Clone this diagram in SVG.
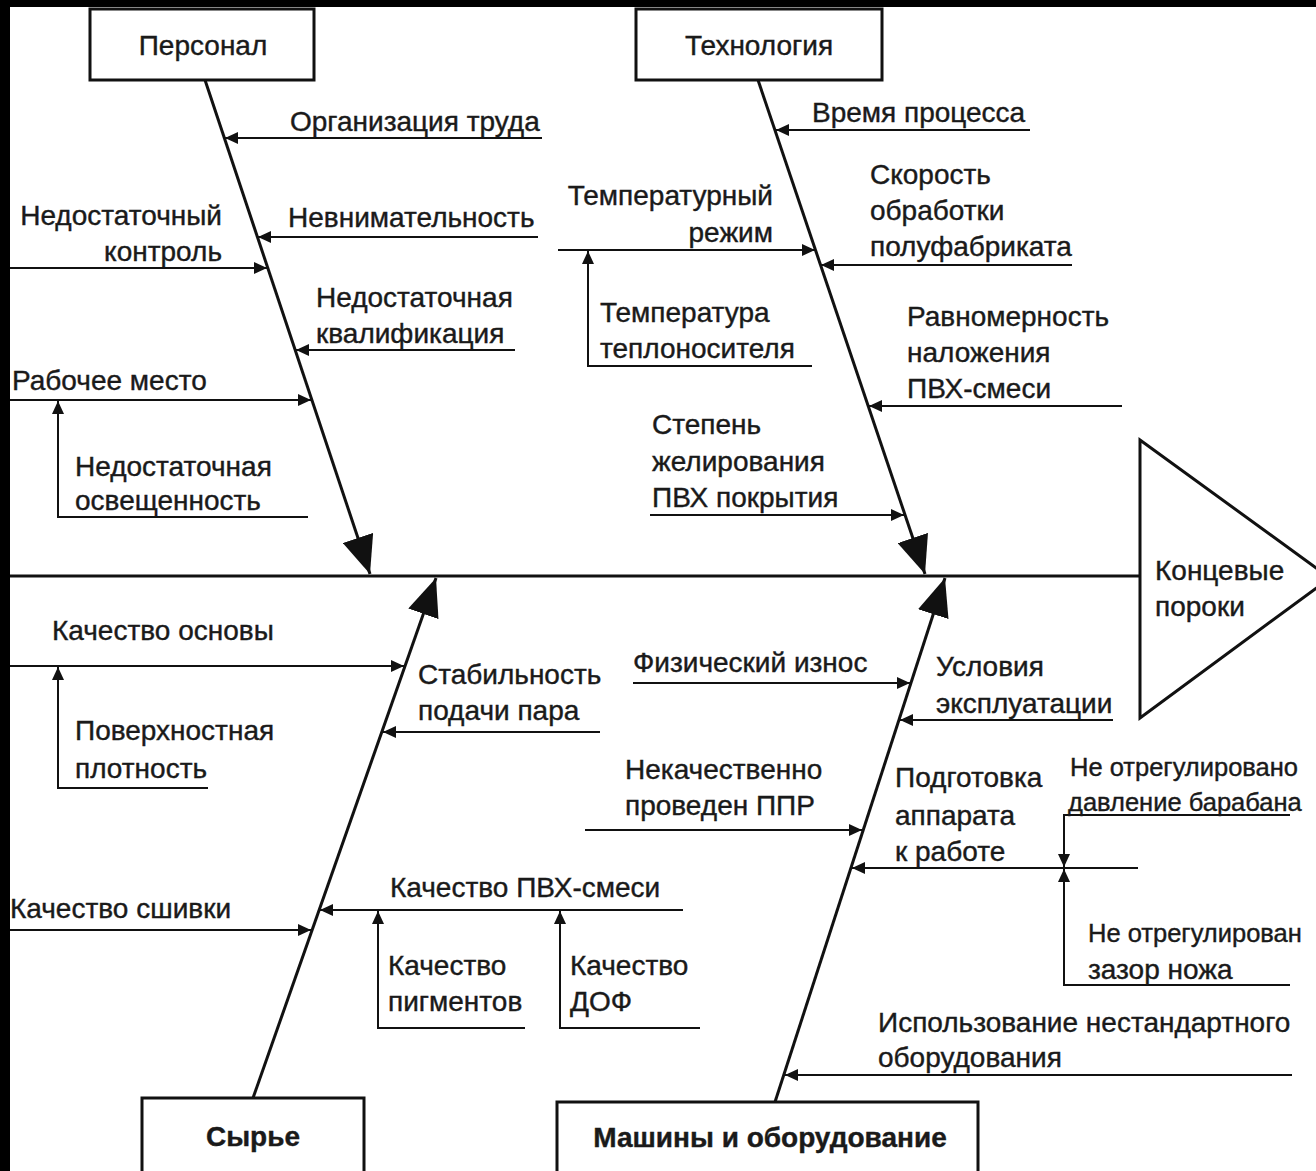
<svg xmlns="http://www.w3.org/2000/svg" width="1316" height="1171" viewBox="0 0 1316 1171">
<defs>
<marker id="sa" markerUnits="userSpaceOnUse" markerWidth="14" markerHeight="12" refX="13" refY="6" orient="auto"><path d="M0,0 L13,6 L0,12 z" fill="#111"/></marker>
<marker id="ba" markerUnits="userSpaceOnUse" markerWidth="40" markerHeight="32" refX="38" refY="16" orient="auto"><path d="M0,0 L38,16 L0,32 z" fill="#111"/></marker>
</defs>
<style>
text{font-family:"Liberation Sans",Arial,sans-serif;font-size:28px;fill:#1a1a1a;stroke:#1a1a1a;stroke-width:0.4}
.b{font-weight:bold}
.s{font-size:25.5px}
.box{fill:#fff;stroke:#111;stroke-width:3}
.bone{stroke:#111;stroke-width:3;fill:none}
.ln{stroke:#111;stroke-width:2;fill:none}
</style>
<rect x="0" y="0" width="1316" height="1171" fill="#fff"/>
<rect x="0" y="0" width="1316" height="7" fill="#000"/>
<rect x="0" y="0" width="10" height="1171" fill="#000"/>

<g id="connectors">
<line class="bone" x1="10" y1="576" x2="1140" y2="576"/>
<line class="bone" x1="205" y1="80" x2="370" y2="574" marker-end="url(#ba)"/>
<line class="bone" x1="758" y1="80" x2="925" y2="574" marker-end="url(#ba)"/>
<line class="bone" x1="253" y1="1098" x2="436" y2="578" marker-end="url(#ba)"/>
<line class="bone" x1="775" y1="1102" x2="945" y2="578" marker-end="url(#ba)"/>
<line class="ln" x1="542" y1="138" x2="225" y2="138" marker-end="url(#sa)"/>
<line class="ln" x1="538" y1="237" x2="258" y2="237" marker-end="url(#sa)"/>
<line class="ln" x1="10" y1="268" x2="267" y2="268" marker-end="url(#sa)"/>
<line class="ln" x1="515" y1="350" x2="296" y2="350" marker-end="url(#sa)"/>
<line class="ln" x1="10" y1="400" x2="311" y2="400" marker-end="url(#sa)"/>
<polyline class="ln" points="308,517 58,517 58,401" marker-end="url(#sa)"/>
<line class="ln" x1="1030" y1="130" x2="776" y2="130" marker-end="url(#sa)"/>
<line class="ln" x1="558" y1="250" x2="815" y2="250" marker-end="url(#sa)"/>
<polyline class="ln" points="812,366 588,366 588,251" marker-end="url(#sa)"/>
<line class="ln" x1="1072" y1="265" x2="821" y2="265" marker-end="url(#sa)"/>
<line class="ln" x1="1122" y1="406" x2="869" y2="406" marker-end="url(#sa)"/>
<line class="ln" x1="650" y1="515" x2="904" y2="515" marker-end="url(#sa)"/>
<line class="ln" x1="10" y1="666" x2="404" y2="666" marker-end="url(#sa)"/>
<polyline class="ln" points="208,788 58,788 58,667" marker-end="url(#sa)"/>
<line class="ln" x1="600" y1="732" x2="383" y2="732" marker-end="url(#sa)"/>
<line class="ln" x1="10" y1="930" x2="311" y2="930" marker-end="url(#sa)"/>
<line class="ln" x1="683" y1="910" x2="320" y2="910" marker-end="url(#sa)"/>
<polyline class="ln" points="525,1028 378,1028 378,911" marker-end="url(#sa)"/>
<polyline class="ln" points="700,1028 560,1028 560,911" marker-end="url(#sa)"/>
<line class="ln" x1="633" y1="683" x2="910" y2="683" marker-end="url(#sa)"/>
<line class="ln" x1="1113" y1="720" x2="900" y2="720" marker-end="url(#sa)"/>
<line class="ln" x1="585" y1="830" x2="862" y2="830" marker-end="url(#sa)"/>
<line class="ln" x1="1138" y1="868" x2="852" y2="868" marker-end="url(#sa)"/>
<polyline class="ln" points="1290,815 1064,815 1064,867" marker-end="url(#sa)"/>
<polyline class="ln" points="1290,985 1064,985 1064,869" marker-end="url(#sa)"/>
<line class="ln" x1="1292" y1="1075" x2="785" y2="1075" marker-end="url(#sa)"/>
</g>

<g id="personal"><rect class="box" x="90" y="9" width="224" height="71"/><text x="203" y="55" text-anchor="middle">Персонал</text></g>
<g id="technology"><rect class="box" x="636" y="9" width="246" height="71"/><text x="759" y="55" text-anchor="middle">Технология</text></g>
<g id="raw"><rect class="box" x="142" y="1098" width="222" height="80"/><text class="b" x="253" y="1146" text-anchor="middle">Сырье</text></g>
<g id="machines"><rect class="box" x="557" y="1102" width="421" height="76"/><text class="b" x="770" y="1147" text-anchor="middle">Машины и оборудование</text></g>
<g id="effect"><polygon points="1140,440 1330,578 1140,718" fill="#fff" stroke="#111" stroke-width="3"/><text x="1155" y="580">Концевые</text><text x="1155" y="616">пороки</text></g>

<g id="labels">
<text x="290" y="131">Организация труда</text>
<text x="222" y="225" text-anchor="end">Недостаточный</text>
<text x="222" y="261" text-anchor="end">контроль</text>
<text x="288" y="227">Невнимательность</text>
<text x="316" y="307">Недостаточная</text>
<text x="316" y="343">квалификация</text>
<text x="12" y="390">Рабочее место</text>
<text x="75" y="476">Недостаточная</text>
<text x="75" y="510">освещенность</text>
<text x="812" y="122">Время процесса</text>
<text x="773" y="205" text-anchor="end">Температурный</text>
<text x="773" y="242" text-anchor="end">режим</text>
<text x="870" y="184">Скорость</text>
<text x="870" y="220">обработки</text>
<text x="870" y="256">полуфабриката</text>
<text x="600" y="322">Температура</text>
<text x="600" y="358">теплоносителя</text>
<text x="907" y="326">Равномерность</text>
<text x="907" y="362">наложения</text>
<text x="907" y="398">ПВХ-смеси</text>
<text x="652" y="434">Степень</text>
<text x="652" y="471">желирования</text>
<text x="652" y="507">ПВХ покрытия</text>
<text x="52" y="640">Качество основы</text>
<text x="75" y="740">Поверхностная</text>
<text x="75" y="778">плотность</text>
<text x="418" y="684">Стабильность</text>
<text x="418" y="720">подачи пара</text>
<text x="10" y="918">Качество сшивки</text>
<text x="390" y="897">Качество ПВХ-смеси</text>
<text x="388" y="975">Качество</text>
<text x="388" y="1011">пигментов</text>
<text x="570" y="975">Качество</text>
<text x="570" y="1011">ДОФ</text>
<text x="633" y="672">Физический износ</text>
<text x="936" y="676">Условия</text>
<text x="936" y="713">эксплуатации</text>
<text x="625" y="779">Некачественно</text>
<text x="625" y="815">проведен ППР</text>
<text x="895" y="787">Подготовка</text>
<text x="895" y="825">аппарата</text>
<text x="895" y="861">к работе</text>
<text class="s" x="1070" y="776">Не отрегулировано</text>
<text class="s" x="1068" y="811">давление барабана</text>
<text class="s" x="1088" y="942">Не отрегулирован</text>
<text x="1088" y="979">зазор ножа</text>
<text x="878" y="1032">Использование нестандартного</text>
<text x="878" y="1067">оборудования</text>
</g>
</svg>
